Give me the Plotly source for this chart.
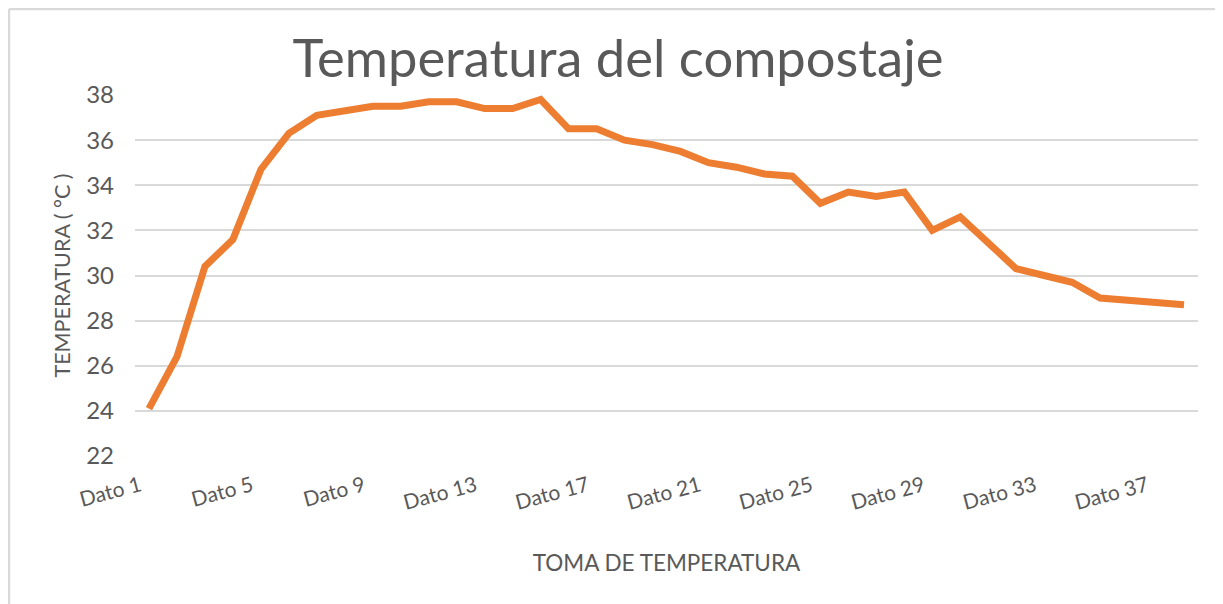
import plotly.graph_objects as go

categories = [f"Dato {i}" for i in range(1, 39)]
temperatures = [24.1, 26.4, 30.4, 31.6, 34.7, 36.3, 37.1, 37.3, 37.5, 37.5,
                37.7, 37.7, 37.4, 37.4, 37.8, 36.5, 36.5, 36.0, 35.8, 35.5,
                35.0, 34.8, 34.5, 34.4, 33.2, 33.7, 33.5, 33.7, 32.0, 32.6,
                31.4, 30.3, 30.0, 29.7, 29.0, 28.9, 28.8, 28.7]
tick_labels = categories[::4]
y_ticks = list(range(22, 39, 2))

# page body has an 8px margin, so the figure is sized to the remaining area
W, H = 1215, 596
ML, MR, MT, MB = 127, 25, 87, 148
FONT = "Lato"
GRAY = "#595959"

fig = go.Figure()
fig.add_trace(go.Scatter(
    x=categories, y=temperatures, mode="lines",
    line=dict(color="#ED7D31", width=7),
    showlegend=False, hoverinfo="x+y",
))

pw = W - ML - MR
ph = H - MT - MB
left_x = (1 - ML) / pw
top_y = (H - MB - 1) / ph
fig.add_shape(type="line", xref="paper", yref="paper",
              x0=left_x, x1=left_x, y0=top_y, y1=-MB / ph - 0.02,
              line=dict(color="#D9D9D9", width=2.5))
fig.add_shape(type="line", xref="paper", yref="paper",
              x0=left_x, x1=(W - ML) / pw + 0.02, y0=top_y, y1=top_y,
              line=dict(color="#D9D9D9", width=2.5))

fig.update_layout(
    width=W, height=H,
    margin=dict(l=ML, r=MR, t=MT, b=MB),
    paper_bgcolor="white", plot_bgcolor="white",
    font=dict(family=FONT, color=GRAY),
    title=dict(text="Temperatura del compostaje", x=610 / W, xref="container",
               xanchor="center", y=1 - 51 / H, yref="container", yanchor="middle",
               font=dict(family=FONT, size=52.5, color=GRAY)),
    xaxis=dict(
        type="category", range=[-0.5, len(categories) - 0.5],
        tickmode="array", tickvals=tick_labels, ticktext=tick_labels,
        tickangle=-15, tickfont=dict(family=FONT, size=21, color=GRAY),
        ticklabelstandoff=13, ticklabelshift=-9,
        showgrid=False, showline=False, zeroline=False, ticks="",
        title=dict(text="TOMA DE TEMPERATURA", standoff=42,
                   font=dict(family=FONT, size=22.5, color=GRAY)),
    ),
    yaxis=dict(
        range=[22, 38], tickvals=y_ticks,
        tickfont=dict(family=FONT, size=24, color=GRAY),
        showgrid=True, gridcolor="#D9D9D9", gridwidth=2,
        zeroline=False, showline=False, ticks="",
        ticklabelstandoff=20,
        title=dict(text="TEMPERATURA ( °C )", standoff=9,
                   font=dict(family=FONT, size=21.5, color=GRAY)),
    ),
)

fig.write_html("out.html")
